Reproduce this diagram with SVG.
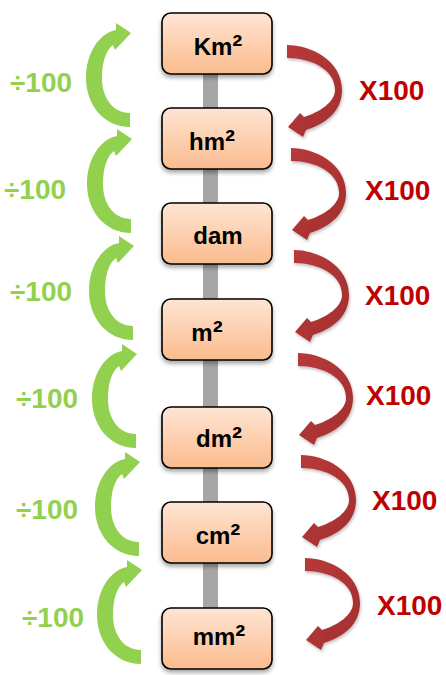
<svg xmlns="http://www.w3.org/2000/svg" width="446" height="675" viewBox="0 0 446 675">
  <defs>
    <linearGradient id="boxFill" x1="0" y1="0" x2="0" y2="1">
      <stop offset="0" stop-color="#fee5d3"/>
      <stop offset="1" stop-color="#fbbb8e"/>
    </linearGradient>
    <linearGradient id="redFill" x1="0" y1="0" x2="1" y2="1">
      <stop offset="0" stop-color="#b83a3a"/>
      <stop offset="1" stop-color="#a32f2f"/>
    </linearGradient>
    <filter id="shadow" x="-20%" y="-20%" width="140%" height="150%">
      <feDropShadow dx="0" dy="3" stdDeviation="2" flood-color="#000" flood-opacity="0.35"/>
    </filter>
    <filter id="softShadow" x="-20%" y="-20%" width="140%" height="140%">
      <feDropShadow dx="1" dy="2" stdDeviation="1.5" flood-color="#000" flood-opacity="0.25"/>
    </filter>
    <!-- upward curved arrow, tip at the origin -->
    <path id="upArrow" d="M -1,94 C -27,94 -45,72 -45,45 C -45,19 -31,0 -15,-3 L -15,-10 L 0,0 L -16,17 L -18,12 C -25,17 -29,29 -29,45 C -29,65 -18,80 -1,80 Z"/>
    <!-- downward curved arrow, tail top at the origin -->
    <path id="downArrow" d="M 0,0 C 23,0 55,15 55,45 C 55,67 38,79 19,85 L 16,92 L 1,82 L 13,68 L 17,72 C 33,67 48,57 48,45 C 48,25 25,13 0,13 Z"/>
  </defs>
  <style>
    .box { fill: url(#boxFill); stroke: #000; stroke-width: 1.6; filter: url(#shadow); }
    .unit { font-family: "Liberation Sans", Arial, sans-serif; font-weight: bold; font-size: 24px; fill: #000; text-anchor: middle; }
    .sup { font-size: 30px; }
    .div { font-family: "Liberation Sans", Arial, sans-serif; font-weight: bold; font-size: 28px; fill: #92d050; }
    .mul { font-family: "Liberation Sans", Arial, sans-serif; font-weight: bold; font-size: 28px; fill: #c00000; }
    .green { fill: #92d050; }
    .red { fill: url(#redFill); filter: url(#softShadow); }
  </style>

  <!-- connectors: the spine and the conversion arrows -->
  <g id="connectors">
    <rect x="203" y="70" width="15" height="542" fill="#a6a6a6"/>
    <use href="#upArrow" class="green" transform="translate(131,33)"/>
    <use href="#upArrow" class="green" transform="translate(132,139)"/>
    <use href="#upArrow" class="green" transform="translate(134,246)"/>
    <use href="#upArrow" class="green" transform="translate(137,354)"/>
    <use href="#upArrow" class="green" transform="translate(140,462)"/>
    <use href="#upArrow" class="green" transform="translate(142,570)"/>
    <use href="#downArrow" class="red" transform="translate(287,45)"/>
    <use href="#downArrow" class="red" transform="translate(291,148)"/>
    <use href="#downArrow" class="red" transform="translate(294,250)"/>
    <use href="#downArrow" class="red" transform="translate(298,353)"/>
    <use href="#downArrow" class="red" transform="translate(301,455)"/>
    <use href="#downArrow" class="red" transform="translate(305,558)"/>
  </g>

  <g id="labels">
    <text class="div" x="10" y="92">÷100</text>
    <text class="div" x="4" y="199">÷100</text>
    <text class="div" x="10" y="301">÷100</text>
    <text class="div" x="16" y="408">÷100</text>
    <text class="div" x="16" y="519">÷100</text>
    <text class="div" x="22" y="627">÷100</text>
    <text class="mul" x="359" y="100">X100</text>
    <text class="mul" x="365" y="200">X100</text>
    <text class="mul" x="365" y="305">X100</text>
    <text class="mul" x="366" y="405">X100</text>
    <text class="mul" x="372" y="510">X100</text>
    <text class="mul" x="377" y="615">X100</text>
  </g>

  <g id="km2"><rect class="box" x="162" y="13" width="110" height="61" rx="9"/><text class="unit" x="218" y="55">Km<tspan class="sup" dy="1">²</tspan></text></g>
  <g id="hm2"><rect class="box" x="162" y="108" width="110" height="61" rx="9"/><text class="unit" x="212" y="150">hm<tspan class="sup" dy="1">²</tspan></text></g>
  <g id="dam"><rect class="box" x="162" y="203" width="110" height="61" rx="9"/><text class="unit" x="218" y="244">dam</text></g>
  <g id="m2"><rect class="box" x="162" y="299" width="110" height="61" rx="9"/><text class="unit" x="207" y="341">m<tspan class="sup" dy="1">²</tspan></text></g>
  <g id="dm2"><rect class="box" x="162" y="407" width="110" height="61" rx="9"/><text class="unit" x="219" y="447">dm<tspan class="sup" dy="1">²</tspan></text></g>
  <g id="cm2"><rect class="box" x="162" y="502" width="110" height="61" rx="9"/><text class="unit" x="218" y="544">cm<tspan class="sup" dy="1">²</tspan></text></g>
  <g id="mm2"><rect class="box" x="162" y="608" width="110" height="61" rx="9"/><text class="unit" x="219" y="645">mm<tspan class="sup" dy="1">²</tspan></text></g>
</svg>
